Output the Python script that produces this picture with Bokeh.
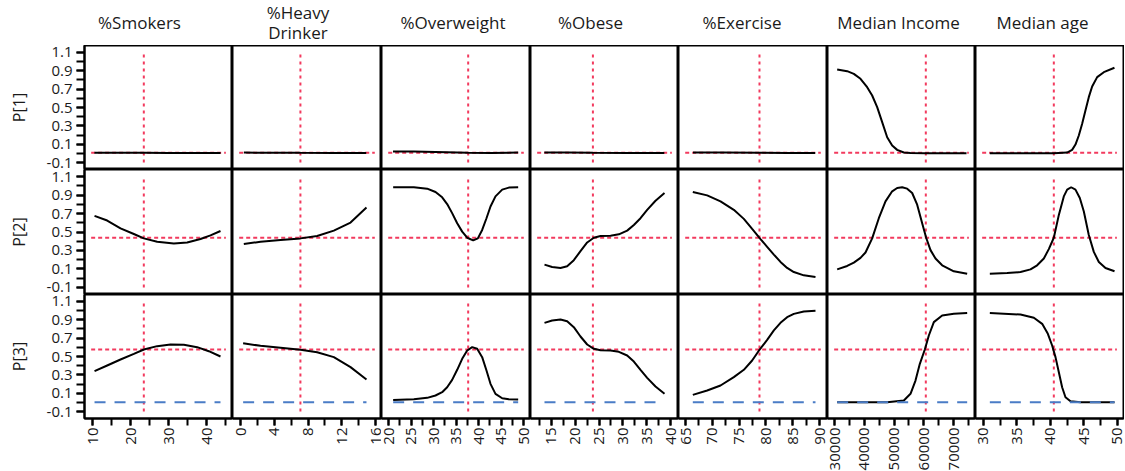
import math
from bokeh.plotting import figure
from bokeh.layouts import gridplot
from bokeh.models import Range1d, FixedTicker, PrintfTickFormatter
from bokeh.core.properties import value
from bokeh.embed import file_html
from bokeh.resources import INLINE

# ---------------- data ----------------
factors = ["%Smokers", "%Heavy\nDrinker", "%Overweight", "%Obese", "%Exercise", "Median Income", "Median age"]
responses = ["P[1]", "P[2]", "P[3]"]
current_x = [23.5, 7.1, 37.7, 23.7, 78.8, 60690, 40.5]
current_p = [0.006, 0.438, 0.576]

y_ticks = [-0.1, 0.1, 0.3, 0.5, 0.7, 0.9, 1.1]
y_minor = [-0.1, 0.0, 0.1, 0.2, 0.3, 0.4, 0.5, 0.6, 0.7, 0.8, 0.9, 1.0, 1.1]

x_major = [
    [10, 20, 30, 40],
    [0, 4, 8, 12, 16],
    [20, 25, 30, 35, 40, 45, 50],
    [15, 20, 25, 30, 35, 40],
    [65, 70, 75, 80, 85, 90],
    [30000, 40000, 50000, 60000, 70000],
    [30, 35, 40, 45, 50],
]
x_minor = [
    [10, 15, 20, 25, 30, 35, 40, 45],
    [0, 2, 4, 6, 8, 10, 12, 14, 16],
    [20, 22.5, 25, 27.5, 30, 32.5, 35, 37.5, 40, 42.5, 45, 47.5, 50],
    [12.5, 15, 17.5, 20, 22.5, 25, 27.5, 30, 32.5, 35, 37.5, 40],
    [65, 67.5, 70, 72.5, 75, 77.5, 80, 82.5, 85, 87.5, 90],
    [30000, 35000, 40000, 45000, 50000, 55000, 60000, 65000, 70000, 75000],
    [30, 32.5, 35, 37.5, 40, 42.5, 45, 47.5, 50],
]

# P[1]
smokers_x1 = [10.5, 17.0, 23.5, 30.0, 37.0, 43.7]
smokers_p1 = [0.007, 0.006, 0.006, 0.005, 0.005, 0.005]
heavy_x1 = [0.4, 4.0, 7.1, 11.0, 14.9]
heavy_p1 = [0.008, 0.007, 0.006, 0.005, 0.005]
overw_x1 = [21.0, 25.6, 30.4, 35.3, 37.7, 42.7, 48.8]
overw_p1 = [0.020, 0.019, 0.015, 0.009, 0.006, 0.005, 0.008]
obese_x1 = [13.5, 18.3, 23.7, 30.9, 38.7]
obese_p1 = [0.010, 0.008, 0.006, 0.005, 0.005]
exer_x1 = [66.4, 72.0, 78.8, 84.0, 89.2]
exer_p1 = [0.010, 0.008, 0.006, 0.005, 0.005]
income_x1 = [30897, 34258, 36498, 38739, 40980, 42660, 44341, 46022, 47702, 49383, 51063, 53304, 55544, 60690, 74366]
income_p1 = [0.915, 0.896, 0.867, 0.813, 0.722, 0.631, 0.504, 0.340, 0.176, 0.085, 0.038, 0.009, 0.003, 0.002, 0.002]
age_x1 = [30.95, 36.0, 40.5, 42.49, 43.23, 43.73, 44.23, 44.73, 45.22, 45.72, 46.22, 46.97, 47.96, 49.55]
age_p1 = [0.002, 0.002, 0.002, 0.009, 0.038, 0.096, 0.195, 0.322, 0.467, 0.613, 0.729, 0.831, 0.885, 0.933]

# P[2]
smokers_x2 = [10.53, 13.86, 17.37, 20.88, 23.51, 27.02, 31.40, 34.91, 38.42, 41.05, 43.68]
smokers_p2 = [0.675, 0.624, 0.540, 0.478, 0.431, 0.395, 0.376, 0.387, 0.424, 0.464, 0.511]
heavy_x2 = [0.39, 2.37, 4.74, 7.11, 9.08, 11.06, 13.04, 14.93]
heavy_p2 = [0.369, 0.395, 0.413, 0.431, 0.456, 0.515, 0.602, 0.765]
overw_x2 = [21.03, 25.63, 28.59, 30.44, 31.92, 33.03, 34.14, 35.26, 36.37, 37.48, 38.81, 39.85,
            40.81, 41.77, 42.66, 43.77, 45.26, 46.74, 48.81]
overw_p2 = [0.984, 0.984, 0.969, 0.933, 0.875, 0.802, 0.704, 0.595, 0.504, 0.438, 0.409, 0.431,
            0.522, 0.649, 0.776, 0.885, 0.958, 0.980, 0.984]
obese_x2 = [13.53, 15.14, 16.89, 18.29, 19.69, 21.09, 22.50, 23.89, 25.30, 27.40, 29.15, 30.90,
            32.30, 33.70, 35.10, 36.85, 38.74]
obese_p2 = [0.147, 0.122, 0.111, 0.129, 0.195, 0.293, 0.387, 0.438, 0.456, 0.460, 0.475, 0.515,
            0.576, 0.649, 0.740, 0.838, 0.922]
exer_x2 = [66.36, 69.04, 71.53, 74.01, 75.88, 77.43, 78.99, 80.23, 81.48, 82.72, 83.96, 85.21, 87.07, 89.25]
exer_p2 = [0.933, 0.896, 0.831, 0.740, 0.642, 0.533, 0.424, 0.340, 0.256, 0.176, 0.111, 0.067, 0.031, 0.013]
income_x2 = [30897, 34258, 36498, 38738, 40419, 42660, 44899, 47141, 49382, 51063, 52743, 54424,
             56104, 57785, 59466, 60810, 62267, 63947, 66188, 70109, 74590]
income_p2 = [0.096, 0.133, 0.169, 0.220, 0.278, 0.431, 0.649, 0.831, 0.940, 0.976, 0.984, 0.969,
             0.922, 0.795, 0.595, 0.438, 0.304, 0.213, 0.140, 0.075, 0.049]
age_x2 = [30.95, 33.54, 35.53, 37.02, 38.01, 39.01, 39.75, 40.50, 41.25, 41.99, 42.49, 43.09,
          43.73, 44.38, 44.98, 45.72, 46.47, 47.22, 48.21, 49.56]
age_p2 = [0.049, 0.056, 0.067, 0.096, 0.140, 0.213, 0.315, 0.438, 0.685, 0.885, 0.958, 0.984,
          0.958, 0.867, 0.722, 0.467, 0.285, 0.176, 0.111, 0.075]

# P[3]
smokers_x3 = [10.53, 13.86, 17.37, 20.88, 23.51, 27.02, 30.53, 34.04, 37.54, 40.61, 43.68]
smokers_p3 = [0.340, 0.402, 0.467, 0.529, 0.576, 0.613, 0.631, 0.627, 0.602, 0.558, 0.500]
heavy_x3 = [0.31, 2.37, 4.74, 7.11, 9.08, 11.06, 13.04, 14.93]
heavy_p3 = [0.645, 0.616, 0.595, 0.573, 0.547, 0.493, 0.384, 0.249]
overw_x3 = [21.03, 25.63, 28.59, 30.44, 31.92, 33.03, 34.14, 35.26, 36.37, 37.48, 38.59, 39.70,
            40.81, 41.77, 42.66, 43.77, 45.26, 46.74, 48.81]
overw_p3 = [0.027, 0.035, 0.049, 0.075, 0.111, 0.165, 0.245, 0.355, 0.475, 0.565, 0.602, 0.584,
            0.493, 0.347, 0.202, 0.093, 0.045, 0.035, 0.031]
obese_x3 = [13.53, 15.14, 16.89, 18.29, 19.69, 21.09, 22.50, 23.89, 25.30, 27.40, 29.15, 30.90,
            32.30, 33.70, 35.10, 36.85, 38.74]
obese_p3 = [0.867, 0.893, 0.904, 0.885, 0.820, 0.718, 0.631, 0.584, 0.569, 0.565, 0.551, 0.511,
            0.445, 0.355, 0.267, 0.173, 0.093]
exer_x3 = [66.36, 69.04, 71.53, 74.01, 75.88, 77.43, 78.80, 80.23, 81.48, 82.72, 83.96, 85.21, 87.07, 89.25]
exer_p3 = [0.082, 0.129, 0.184, 0.275, 0.355, 0.456, 0.573, 0.682, 0.784, 0.867, 0.929, 0.965, 0.991, 1.000]
income_x3 = [30897, 47702, 53304, 55544, 57224, 58680, 60361, 61705, 63386, 66188, 70109, 74590]
income_p3 = [0.002, 0.002, 0.020, 0.093, 0.238, 0.420, 0.576, 0.729, 0.875, 0.947, 0.965, 0.973]
age_x3 = [30.95, 35.53, 37.52, 38.76, 39.61, 40.25, 40.75, 41.25, 41.74, 42.24, 42.99, 44.48, 49.56]
age_p3 = [0.973, 0.958, 0.922, 0.856, 0.747, 0.620, 0.493, 0.329, 0.165, 0.056, 0.013, 0.002, 0.002]

curves = [
    [(smokers_x1, smokers_p1), (heavy_x1, heavy_p1), (overw_x1, overw_p1), (obese_x1, obese_p1),
     (exer_x1, exer_p1), (income_x1, income_p1), (age_x1, age_p1)],
    [(smokers_x2, smokers_p2), (heavy_x2, heavy_p2), (overw_x2, overw_p2), (obese_x2, obese_p2),
     (exer_x2, exer_p2), (income_x2, income_p2), (age_x2, age_p2)],
    [(smokers_x3, smokers_p3), (heavy_x3, heavy_p3), (overw_x3, overw_p3), (obese_x3, obese_p3),
     (exer_x3, exer_p3), (income_x3, income_p3), (age_x3, age_p3)],
]

# ---------------- layout / style ----------------
x_limits = [(7.89, 46.84), (-0.95, 16.71), (18.44, 51.55), (10.59, 41.68),
            (63.69, 91.49), (27647, 77390), (28.81, 50.90)]
y_limits = (-0.176, 1.176)
frame_widths = [148, 149, 149, 148, 149, 148, 148]
frame_heights = [124, 125, 124]
header_height = 45
title_dx = [-19, -9, -3, -14, -11, -3, -7]

FONT = "Open Sans"
TXT = "#1a1a1a"
RED = "#f23a5e"
BLUE = "#4a7cc6"

x_ranges = [Range1d(a, b) for a, b in x_limits]
y_range = Range1d(*y_limits)


def borders(ci):
    return dict(min_border_left=84 if ci == 0 else 0,
                min_border_right=1 if ci == 6 else 0)


# header row: factor names
header = []
for ci in range(7):
    h = figure(frame_width=frame_widths[ci], frame_height=header_height,
               x_range=x_ranges[ci], y_range=Range1d(0, header_height),
               output_backend="svg", toolbar_location=None, tools="",
               min_border_top=0, min_border_bottom=0,
               x_axis_location=None, y_axis_location=None, **borders(ci))
    h.outline_line_color = None
    h.xgrid.visible = False
    h.ygrid.visible = False
    lines = factors[ci].split("\n")
    n = len(lines)
    x0, x1 = x_limits[ci]
    h.text(x=[(x0 + x1) / 2] * n,
           y=[23.5 + 10 * (n - 1) - 20 * i for i in range(n)],
           text=lines, x_offset=title_dx[ci],
           text_align="center", text_baseline="alphabetic",
           text_font=value(FONT), text_font_size=value("17px"), text_color=TXT)
    header.append(h)

rows = [header]
for ri in range(3):
    row = []
    for ci in range(7):
        p = figure(
            frame_width=frame_widths[ci], frame_height=frame_heights[ri],
            x_range=x_ranges[ci], y_range=y_range,
            output_backend="svg", toolbar_location=None, tools="",
            min_border_top=0,
            min_border_bottom=52 if ri == 2 else 0,
            x_axis_location="below" if ri == 2 else None,
            y_axis_location="left" if ci == 0 else None,
            **borders(ci),
        )
        p.outline_line_color = "black"
        p.outline_line_width = 2
        p.outline_line_alpha = 1
        p.xgrid.visible = False
        p.ygrid.visible = False
        p.background_fill_color = "white"
        p.border_fill_color = "white"

        if ci == 0:
            ax = p.yaxis[0]
            ax.ticker = FixedTicker(ticks=y_ticks, minor_ticks=y_minor)
            ax.formatter = PrintfTickFormatter(format="%.1f")
            ax.axis_label = responses[ri]
            ax.axis_label_text_font = FONT
            ax.axis_label_text_font_size = "16px"
            ax.axis_label_text_font_style = "normal"
            ax.axis_label_text_color = TXT
            ax.axis_label_standoff = 14
        if ri == 2:
            ax = p.xaxis[0]
            ax.ticker = FixedTicker(ticks=x_major[ci], minor_ticks=x_minor[ci])
            ax.major_label_orientation = math.pi / 2
        for ax in p.axis:
            is_y = ax in p.yaxis
            ax.major_label_text_font = FONT
            ax.major_label_text_font_size = "15px"
            ax.major_label_text_color = TXT
            ax.major_label_standoff = 4 if is_y else 2
            ax.major_tick_out = 8 if is_y else 7
            ax.major_tick_in = 0
            ax.minor_tick_out = 8 if is_y else 7
            ax.minor_tick_in = 0
            ax.major_tick_line_width = 2
            ax.minor_tick_line_width = 2
            ax.major_tick_line_color = "black"
            ax.minor_tick_line_color = "black"
            ax.axis_line_color = "black"
            ax.axis_line_width = 2

        xs, ys = curves[ri][ci]
        x0, x1 = x_limits[ci]
        inset = 0.045 * (x1 - x0)
        # current-value crosshair
        p.segment(x0=[x0 + inset], y0=[current_p[ri]], x1=[x1 - inset], y1=[current_p[ri]],
                  line_color=RED, line_width=2, line_dash="4 3")
        p.segment(x0=[current_x[ci]], y0=[y_ticks[0]], x1=[current_x[ci]], y1=[y_ticks[-1]],
                  line_color=RED, line_width=2, line_dash="3 4")
        p.line(xs, ys, line_color="black", line_width=2)
        if ri == 2:
            p.segment(x0=[min(xs)], y0=[0], x1=[max(xs)], y1=[0],
                      line_color=BLUE, line_width=2, line_dash="11 9")
        row.append(p)
    rows.append(row)

grid = gridplot(rows, toolbar_location=None)
open("out.html", "w").write(file_html(grid, INLINE, title="Prediction profiler"))
